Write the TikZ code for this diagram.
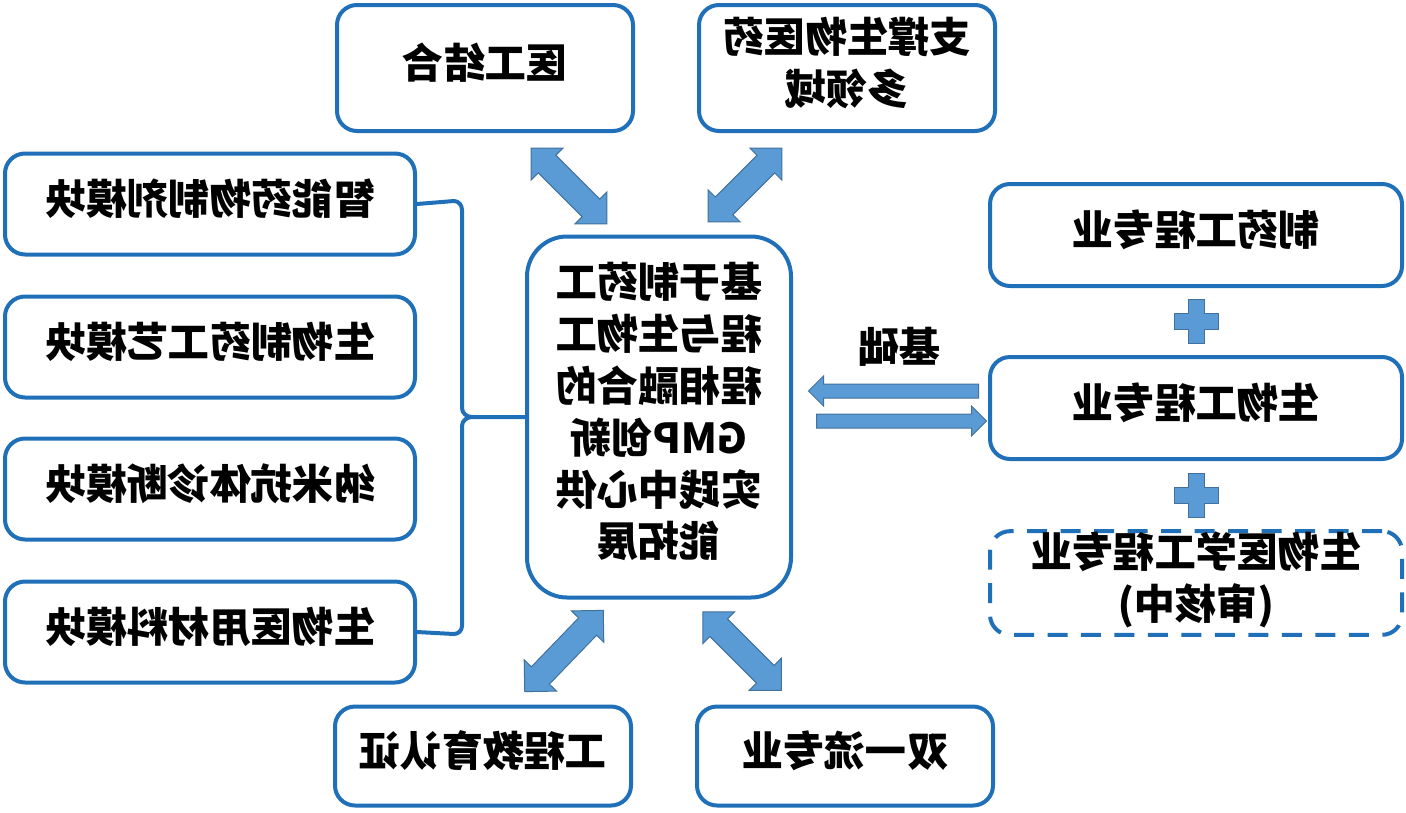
\documentclass[tikz,border=0pt]{standalone}
\usepackage{fontspec}
\setmainfont{Noto Sans CJK SC}
\usepackage{graphicx}
\usetikzlibrary{arrows.meta, positioning, calc, shapes.arrows}
\definecolor{boxblue}{HTML}{1F70B8}
\definecolor{arrowfill}{HTML}{5B9BD5}
\definecolor{arrowline}{HTML}{41719C}
\def\pxu{0.02cm}
% mirrored text, as in the picture
\newcommand{\mir}[1]{\reflectbox{\begin{tabular}{@{}c@{}}#1\end{tabular}}}

\begin{document}
\begin{tikzpicture}[x=\pxu, y=-\pxu,
  box/.style={draw=boxblue, line width=4*\pxu, rounded corners=20*\pxu, fill=white,
    inner sep=0pt, font=\fontsize{23.5}{29.5}\selectfont\bfseries},
  topbox/.style={box, minimum width=296*\pxu, minimum height=126*\pxu},
  modbox/.style={box, minimum width=410*\pxu, minimum height=101*\pxu},
  majbox/.style={box, minimum width=412*\pxu, minimum height=102*\pxu},
  link/.style={draw=boxblue, line width=4*\pxu},
  darrow/.style={double arrow, draw=arrowline, fill=arrowfill, line width=1*\pxu,
    inner xsep=0pt, inner ysep=12*\pxu, double arrow head extend=10*\pxu},
  sarrow/.style={single arrow, draw=arrowline, fill=arrowfill, line width=1*\pxu,
    inner xsep=0pt, inner ysep=6.5*\pxu, single arrow head extend=8*\pxu, minimum height=170*\pxu},
  plussign/.pic={\filldraw[fill=arrowfill, draw=arrowline, line width=1*\pxu]
    (-8,-22) -- (8,-22) -- (8,-8) -- (22,-8) -- (22,8) -- (8,8) -- (8,22)
    -- (-8,22) -- (-8,8) -- (-22,8) -- (-22,-8) -- (-8,-8) -- cycle;}]
  \useasboundingbox (0,0) rectangle (1406,812);
  % Centre
  \node[box, rounded corners=40*\pxu, minimum width=264*\pxu, minimum height=361*\pxu] (centre) at (659,417)
    {\mir{基于制药工\\程与生物工\\程相融合的\\GMP创新\\实践中心供\\能拓展}};
  % Top and bottom
  \node[topbox] (yigong) at (485,68) {\mir{医工结合}};
  \node[topbox] (zhicheng) at (847,68) {\mir{支撑生物医药\\多领域}};
  \node[topbox, minimum height=99*\pxu] (renzheng) at (483,756) {\mir{工程教育认证}};
  \node[topbox, minimum height=99*\pxu] (shuangyiliu) at (845,756) {\mir{双一流专业}};
  \node[darrow, minimum height=107*\pxu, rotate=-45] (a1) at (569,186) {};
  \node[darrow, minimum height=104*\pxu, rotate=45] (a2) at (745,185) {};
  \node[darrow, minimum height=113*\pxu, rotate=46] (a3) at (564,651) {};
  \node[darrow, minimum height=111*\pxu, rotate=-45] (a4) at (742,651) {};
  % Modules on the left
  \node[modbox] (m1) at (210,204) {\mir{智能药物制剂模块}};
  \node[modbox] (m2) at (210,347) {\mir{生物制药工艺模块}};
  \node[modbox] (m3) at (210,489) {\mir{纳米抗体诊断模块}};
  \node[modbox] (m4) at (210,632) {\mir{生物医用材料模块}};
  \coordinate (tip) at (472,417);
  \draw[link] (m1.east) -- (454,201) to[out=0,in=90] (462,210) -- (462,408) to[out=-90,in=180] (tip) -- (centre.west);
  \draw[link] (m4.east) -- (454,634) to[out=0,in=-90] (462,626) -- (462,426) to[out=90,in=180] (tip);
  % Majors on the right
  \node[majbox] (zy1) at (1196,235) {\mir{制药工程专业}};
  \node[majbox] (zy2) at (1196,408) {\mir{生物工程专业}};
  \node[majbox, dash pattern=on 0.4cm off 0.27cm] (zy3) at (1196,583) {\mir{生物医学工程专业\\(审核中)}};
  \pic at ($(zy1.south)!0.5!(zy2.north)$) {plussign};
  \pic at ($(zy2.south)!0.5!(zy3.north)$) {plussign};
  \node[sarrow, shape border rotate=180] (j1) at (897,391) {};
  \node[sarrow] (j2) at (898,421) {};
  \node[font=\fontsize{23.5}{29.5}\selectfont\bfseries] (jichu) at (899,352) {\mir{基础}};
\end{tikzpicture}
\end{document}
